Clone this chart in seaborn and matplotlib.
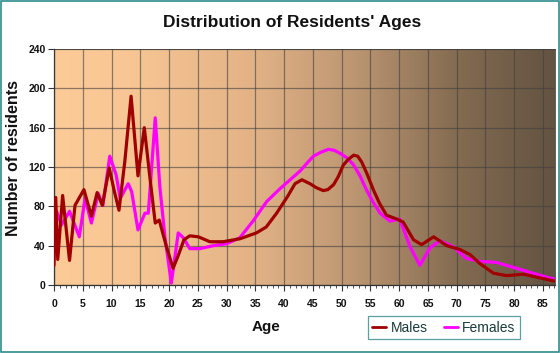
import numpy as np
import pandas as pd
import matplotlib
matplotlib.use("Agg")
import matplotlib.pyplot as plt
from matplotlib.colors import LinearSegmentedColormap
from matplotlib.lines import Line2D
from matplotlib.patches import Rectangle
import seaborn as sns

# ---- data ----
males_age = [0, 0.3, 0.65, 1.5, 2.7, 3.65, 5.2, 6.5, 7.5, 8.4, 9.6, 10.5, 11.3, 12.3, 13.4,
             14.6, 15.7, 16.7, 17.6, 18.3, 19.5, 20.7, 21.6, 22.6, 23.6, 25.1, 27.1, 29.4,
             32.3, 35.2, 36.9, 38.7, 40.6, 41.9, 43.1, 44.5, 45.6, 46.8, 47.6, 48.6, 49.4,
             50.3, 51.2, 52.1, 52.8, 53.5, 54.5, 55.5, 56.6, 57.8, 59.6, 60.7, 62.5, 63.9,
             66, 68.3, 70.6, 72.3, 74, 76.4, 78.7, 81.6, 83.9, 87]
males_val = [20, 89, 26, 91, 25, 81, 97, 70, 94, 81, 119, 95, 76, 125, 192,
             111, 160, 108, 63, 66, 40, 17, 30, 46, 50, 49, 44, 44,
             47, 53, 59, 73, 90, 103, 107, 103, 99, 96, 97, 102, 110,
             122, 128, 132, 131, 125, 112, 97, 83, 71, 67, 64, 46, 41,
             49, 40, 36, 31, 22, 12, 9.5, 11, 8, 4]

females_age = [0, 0.45, 1.3, 2.7, 4.4, 5.4, 6.5, 7.7, 8.5, 9.7, 10.8, 11.5, 12.9, 13.5,
               14.6, 15.8, 16.4, 17.6, 18.4, 19.3, 20.4, 21.6, 22.5, 23.6, 25.4, 27.7,
               30, 32.3, 34.6, 37, 39.3, 42.8, 44, 45.1, 46.4, 47.7, 48.7, 49.7, 51,
               52.1, 53.2, 54.3, 55.5, 56.7, 58.4, 60.1, 61.9, 63.6, 65.4, 67.1, 69.4,
               71.7, 74, 76.9, 79.8, 82.7, 85.6, 87]
females_val = [70, 75, 61, 75, 49, 88, 63, 93, 81, 131, 112, 88, 103, 95,
               56, 73, 73, 170, 100, 48, 2, 53, 48, 37, 37, 40,
               42, 48, 65, 85, 98, 116, 124, 131, 135, 138, 137, 134, 129,
               122, 111, 97, 84, 73, 65, 67, 39, 20, 38, 45, 39,
               27, 24, 23, 18, 13, 8, 6]

series_names = ["Males", "Females"]
series_colors = {"Males": "#A00000", "Females": "#FF00FF"}
x_ticks = list(range(0, 90, 5))
y_ticks = list(range(0, 241, 40))

df = pd.concat([
    pd.DataFrame({"Age": males_age, "Residents": males_val, "Sex": "Males"}),
    pd.DataFrame({"Age": females_age, "Residents": females_val, "Sex": "Females"}),
], ignore_index=True)

sns.set_theme(style="white")
plt.rcParams["font.family"] = ["Liberation Sans", "DejaVu Sans"]

fig = plt.figure(figsize=(5.6, 3.53), dpi=100, facecolor="white")
ax = fig.add_axes([54 / 560, 1 - 285 / 353, (555 - 54) / 560, (285 - 49) / 353])

# gradient background
cmap = LinearSegmentedColormap.from_list("bg", [
    (0.0, (252/255, 203/255, 152/255)),
    (0.15, (248/255, 198/255, 148/255)),
    (0.4, (226/255, 178/255, 134/255)),
    (0.6, (188/255, 150/255, 114/255)),
    (0.8, (133/255, 108/255, 82/255)),
    (1.0, (99/255, 83/255, 65/255)),
])
grad = np.linspace(0, 1, 256).reshape(1, -1)
ax.imshow(grad, cmap=cmap, aspect="auto", extent=[0, 87.1, 0, 240], zorder=0)

sns.lineplot(data=df, x="Age", y="Residents", hue="Sex", hue_order=series_names[::-1],
             palette=series_colors, estimator=None, sort=True, linewidth=2.3,
             legend=False, ax=ax, zorder=3)
for ln in ax.lines:
    ln.set_solid_joinstyle("round")
    ln.set_solid_capstyle("round")

ax.set_xlim(0, 87.1)
ax.set_ylim(0, 240)
ax.set_xticks(x_ticks)
ax.set_xticks(np.arange(0, 88, 1), minor=True)
ax.set_yticks(y_ticks)
ax.grid(True, which="major", color="#404040", alpha=0.6, linewidth=0.9, zorder=1)
ax.set_axisbelow(False)
for l in ax.get_xgridlines() + ax.get_ygridlines():
    l.set_zorder(1)

ax.tick_params(axis="x", which="major", length=4, width=0.8, color="#333333",
               labelsize=7.5, labelcolor="#111111", pad=6, bottom=True)
ax.tick_params(axis="x", which="minor", length=2.5, width=0.6, color="#333333", bottom=True)
ax.tick_params(axis="y", which="major", length=4, width=0.8, color="#333333",
               labelsize=7.5, labelcolor="#111111", pad=2, left=True)
for lab in ax.get_xticklabels() + ax.get_yticklabels():
    lab.set_fontweight("bold")
for s in ["left", "bottom"]:
    ax.spines[s].set_color("#333333")
    ax.spines[s].set_linewidth(0.9)
for s in ["top", "right"]:
    ax.spines[s].set_color("#444444")
    ax.spines[s].set_linewidth(0.6)

ax.set_xlabel("")
ax.set_ylabel("")
fig.text(266 / 560, 1 - 327 / 353, "Age", ha="center", va="center",
         fontsize=11, fontweight="bold", color="#111111")
fig.text(14 / 560, 1 - 158 / 353, "Number of residents", ha="center", va="center",
         rotation=90, fontsize=11.5, fontweight="bold", color="#111111")
fig.text(292 / 560, 1 - 23 / 353, "Distribution of Residents' Ages", ha="center",
         va="center", fontsize=12.5, fontweight="bold", color="#111111")

handles = [Line2D([0], [0], color=series_colors[n], linewidth=2.0) for n in series_names]
leg = fig.legend(handles, series_names, loc="center", bbox_to_anchor=(444 / 560, 1 - 327.5 / 353),
                 ncol=2, frameon=True, fancybox=False, fontsize=10, handlelength=1.0,
                 handletextpad=0.3, columnspacing=1.2, borderpad=0.35)
leg.get_frame().set_edgecolor("#2E8B8B")
leg.get_frame().set_linewidth(0.9)
leg.get_frame().set_facecolor("white")
for t in leg.get_texts():
    t.set_color("#1A3A3A")

fig.patches.append(Rectangle((0.001, 0.002), 0.997, 0.995, transform=fig.transFigure,
                             fill=False, edgecolor="#2E8B8B", linewidth=1.2))

fig.savefig("out.png", dpi=100, facecolor="white")
